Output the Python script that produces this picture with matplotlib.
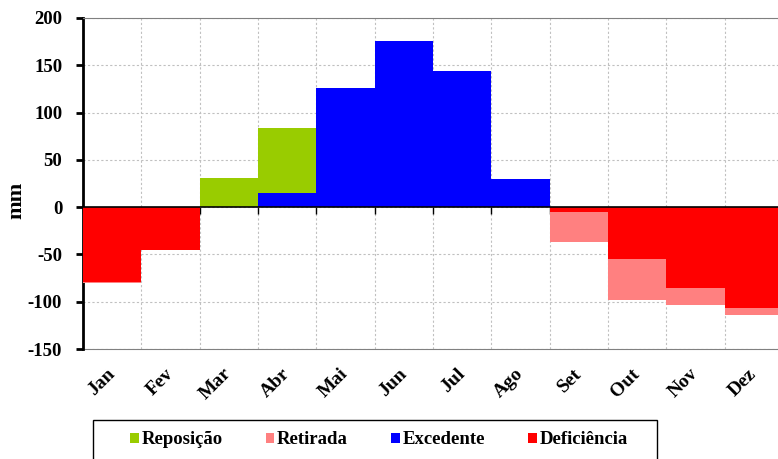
import matplotlib
matplotlib.use('Agg')
import matplotlib.pyplot as plt
import numpy as np
from matplotlib.patches import Patch, Rectangle

plt.rcParams['font.family'] = ['Liberation Serif', 'DejaVu Serif']
plt.rcParams['font.weight'] = 'bold'
plt.rcParams['axes.unicode_minus'] = False

# monthly water balance (mm)
months = ['Jan', 'Fev', 'Mar', 'Abr', 'Mai', 'Jun', 'Jul', 'Ago', 'Set', 'Out', 'Nov', 'Dez']
excedente = [0, 0, 0, 15, 126, 176, 144, 30, 0, 0, 0, 0]
reposicao = [0, 0, 31, 69, 0, 0, 0, 0, 0, 0, 0, 0]
deficiencia = [-79, -45, 0, 0, 0, 0, 0, 0, -5, -55, -86, -107]
retirada = [-1, 0, 0, 0, 0, 0, 0, 0, -32, -43, -17, -7]

yticks = [-150, -100, -50, 0, 50, 100, 150, 200]

green = '#99CC00'
pink = '#FF8080'
blue = '#0000FF'
red = '#FF0000'

fig = plt.figure(figsize=(7.78, 4.59), dpi=100)
ax = fig.add_axes([83 / 778, 1 - 349 / 459, 700 / 778, 331 / 459])

x = np.arange(len(months))
ax.bar(x, excedente, width=1.0, align='edge', color=blue, zorder=3)
ax.bar(x, reposicao, width=1.0, align='edge', bottom=excedente, color=green, zorder=3)
ax.bar(x, deficiencia, width=1.0, align='edge', color=red, zorder=3)
ax.bar(x, retirada, width=1.0, align='edge', bottom=deficiencia, color=pink, zorder=3)

ax.set_xlim(0, 12)
ax.set_ylim(-150, 200)
ax.set_yticks(yticks)
ax.tick_params(axis='y', labelsize=13.5, length=5, width=2, direction='out', colors='black', pad=10)
for lab in ax.get_yticklabels():
    lab.set_fontweight('bold')

# grid
ax.set_axisbelow(True)
ax.grid(True, color='#c0c0c0', linestyle=(0, (2, 2)), linewidth=0.8)

# spines: thick left axis, x-axis at zero with ticks at month boundaries
ax.spines['left'].set_linewidth(2)
ax.spines['right'].set_visible(False)
ax.spines['top'].set_color('#808080')
ax.spines['bottom'].set_position(('data', 0))
ax.spines['bottom'].set_zorder(4)
ax.spines['bottom'].set_linewidth(1.2)
ax.set_xticks(np.arange(0, 13))
ax.set_xticklabels([])
ax.tick_params(axis='x', length=5, width=1, direction='out', colors='black')

# month labels at the bottom
sec = ax.secondary_xaxis('bottom')
sec.spines['bottom'].set_color('#808080')
sec.set_xticks(x + 0.5, labels=months)
sec.tick_params(axis='x', length=0, pad=16)
for lab in sec.get_xticklabels():
    lab.set_rotation(45)
    lab.set_ha('right')
    lab.set_va('center')
    lab.set_rotation_mode('anchor')
    lab.set_fontsize(14)
    lab.set_fontweight('bold')

fig.text(16 / 778, 1 - 200 / 459, 'mm', rotation=90, ha='center', va='center',
         fontsize=16, fontweight='bold')

handles = [Patch(facecolor=green, edgecolor='none', label='Reposição'),
           Patch(facecolor=pink, edgecolor='none', label='Retirada'),
           Patch(facecolor=blue, edgecolor='none', label='Excedente'),
           Patch(facecolor=red, edgecolor='none', label='Deficiência')]
leg = fig.legend(handles=handles, loc='center', bbox_to_anchor=(379 / 778, 1 - 440 / 459),
                 ncol=4, frameon=False, fontsize=13.5,
                 handlelength=0.45, handleheight=0.45, handletextpad=0.15, columnspacing=2.3,
                 borderpad=0, borderaxespad=0)
for t in leg.get_texts():
    t.set_fontweight('bold')

# legend box (bottom edge runs off the picture)
fig.patches.append(Rectangle((93 / 778, -0.05), 564 / 778, 0.05 + 39 / 459,
                             transform=fig.transFigure, facecolor='none',
                             edgecolor='black', linewidth=1.0))

fig.savefig('out.png', dpi=100)
